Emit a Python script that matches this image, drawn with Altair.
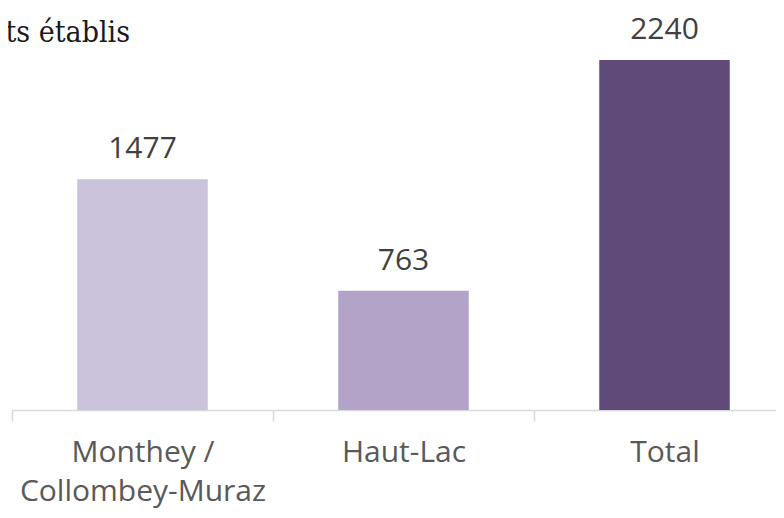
import altair as alt
import pandas as pd

categories = ["Monthey / Collombey-Muraz", "Haut-Lac", "Total"]
label_lines = [["Monthey /", "Collombey-Muraz"], ["Haut-Lac"], ["Total"]]
values = [1477, 763, 2240]
colors = ["#cbc2dc", "#b3a3c9", "#5f4a7a"]
title_text = "Nombre de résidents établis"

df = pd.DataFrame({"cat": categories, "val": values, "col": colors, "i": range(len(categories))})


def js_lines(lines):
    if len(lines) == 1:
        return "'" + lines[0] + "'"
    return "[" + ",".join("'" + l + "'" for l in lines) + "]"


expr = "''"
for i in reversed(range(len(categories))):
    expr = f"datum.value == {i + 0.5} ? {js_lines(label_lines[i])} : ({expr})"

W = 764
n = len(categories)
x_scale = alt.Scale(domain=[0, n * W / 783], nice=False, zero=False)

axis = alt.Axis(
    values=[k * 0.5 for k in range(2 * n)],
    labelAngle=0,
    labelFont="Open Sans",
    labelFontSize=30,
    labelColor="#595959",
    labelBaseline="alphabetic",
    labelAlign="center",
    labelPadding=40,
    labelLineHeight=39,
    labelLimit=500,
    labelExpr=expr,
    tickSize=11,
    tickColor="#d9d9d9",
    tickWidth=1.5,
    tickOpacity={"condition": {"test": "datum.value % 1 != 0", "value": 0}, "value": 1},
    domainColor="#d9d9d9",
    domainWidth=1.5,
    grid=False,
    labelFlush=False,
    labelOverlap=False,
    title=None,
)

y = alt.Y("val:Q", scale=alt.Scale(domain=[0, 2573], nice=False), axis=None)

base = alt.Chart(df).transform_calculate(
    x0="datum.i + 0.25", x1="datum.i + 0.75", xc="datum.i + 0.5"
)

bars = base.mark_bar().encode(
    x=alt.X("x0:Q", scale=x_scale, axis=axis),
    x2="x1:Q",
    y=y,
    y2=alt.datum(0),
    color=alt.Color("col:N", scale=None),
)
labels = base.mark_text(
    font="Open Sans", fontSize=30, color="#404040", baseline="alphabetic", dy=-21
).encode(x=alt.X("xc:Q", scale=x_scale), y=y, text=alt.Text("val:Q"))

title = alt.Chart(pd.DataFrame({"t": [title_text]})).mark_text(
    font="DejaVu Serif Condensed, DejaVu Serif", fontSize=30, color="#1a1a1a",
    align="right", baseline="alphabetic"
).encode(x=alt.value(118), y=alt.value(34), text="t:N")

chart = (
    alt.layer(bars, labels, title)
    .properties(
        width=W,
        height=402,
        autosize=alt.AutoSizeParams(type="none"),
        padding={"left": 4, "right": 0, "top": 0, "bottom": 98},
    )
    .configure_view(stroke=None)
)

chart.save("out.html", embed_options={"renderer": "svg", "actions": False})
